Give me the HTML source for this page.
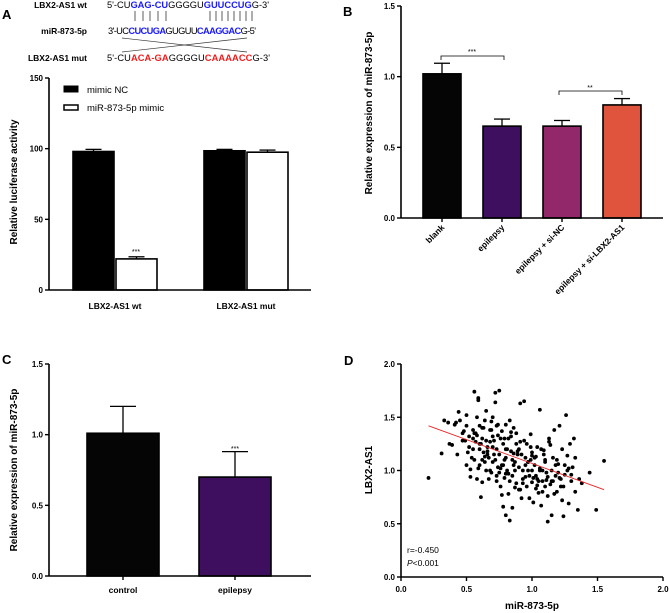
<!DOCTYPE html>
<html><head><meta charset="utf-8"><style>
body{margin:0;background:#fff}
svg{display:block;font-family:"Liberation Sans",Arial,sans-serif}
</style></head><body>
<svg id="fig" width="669" height="613" viewBox="0 0 669 613">
<g id="seq" font-size="9.3">
 <text x="2" y="19" font-size="13" font-weight="bold">A</text>
 <text x="87" y="8" text-anchor="end" font-size="8.5" font-weight="bold">LBX2-AS1 wt</text>
 <text x="87" y="34" text-anchor="end" font-size="8.5" font-weight="bold">miR-873-5p</text>
 <text x="87" y="61" text-anchor="end" font-size="8.5" font-weight="bold">LBX2-AS1 mut</text>
 <text x="107" y="8" textLength="162">5'-CU<tspan fill="#1a1aff" font-weight="bold">GAG-CU</tspan>GGGGU<tspan fill="#1a1aff" font-weight="bold">GUUCCUG</tspan>G-3'</text>
 <text x="108" y="34" textLength="148">3'-UC<tspan fill="#1a1aff" font-weight="bold">CUCUGA</tspan>GUGUU<tspan fill="#1a1aff" font-weight="bold">CAAGGAC</tspan>G-5'</text>
 <text x="107" y="61" textLength="163">5'-CU<tspan fill="#ee1c1c" font-weight="bold">ACA-GA</tspan>GGGGU<tspan fill="#ee1c1c" font-weight="bold">CAAAACC</tspan>G-3'</text>
 <g stroke="#333" stroke-width="0.8" id="pairs"></g>
 <line x1="122" y1="38" x2="247" y2="52" stroke="#333" stroke-width="0.7"/>
 <line x1="247" y1="38" x2="122" y2="52" stroke="#333" stroke-width="0.7"/>
</g>
<g id="pa"></g>
<g id="pb"></g>
<g id="pc"></g>
<g id="pd"></g>
</svg>
<script>
const NS="http://www.w3.org/2000/svg";
// Panel A data
const aCats=["LBX2-AS1 wt","LBX2-AS1 mut"];
const aNC=[98,98.5];
const aNCerr=[1.5,1];
const aMimic=[22,97.5];
const aMimicErr=[1.5,1.5];
const aTicks=[0,50,100,150];
// Panel B data
const bCats=["blank","epilepsy","epilepsy + si-NC","epilepsy + si-LBX2-AS1"];
const bVals=[1.02,0.65,0.65,0.80];
const bErr=[0.075,0.05,0.04,0.045];
const bTicks=[0.0,0.5,1.0,1.5];
// Panel C data
const cCats=["control","epilepsy"];
const cVals=[1.01,0.70];
const cErr=[0.19,0.18];
const cTicks=[0.0,0.5,1.0,1.5];
// Panel D data
const dX=[0.21,0.31,0.33,0.36,0.37,0.39,0.41,0.42,0.43,0.44,0.45,0.47,0.48,0.49,0.5,0.5,0.51,0.52,0.53,0.53,0.55,0.55,0.56,0.56,0.57,0.58,0.58,0.59,0.59,0.6,0.6,0.61,0.62,0.62,0.63,0.64,0.65,0.65,0.66,0.67,0.67,0.68,0.69,0.7,0.7,0.71,0.72,0.72,0.73,0.73,0.74,0.75,0.75,0.76,0.76,0.77,0.77,0.78,0.78,0.79,0.8,0.8,0.8,0.81,0.82,0.82,0.83,0.83,0.84,0.85,0.85,0.86,0.87,0.88,0.88,0.9,0.9,0.91,0.92,0.93,0.94,0.94,0.95,0.96,0.97,0.98,0.99,1.0,1.0,1.01,1.02,1.03,1.04,1.05,1.06,1.06,1.07,1.08,1.09,1.1,1.11,1.12,1.12,1.13,1.14,1.15,1.16,1.17,1.18,1.19,1.2,1.21,1.22,1.23,1.24,1.25,1.26,1.27,1.28,1.29,1.3,1.31,1.32,1.33,1.35,1.36,1.38,1.44,1.49,1.55,0.68,0.72,0.75,0.8,0.85,0.88,0.92,0.95,0.98,1.02,1.05,1.08,0.7,0.65,0.6,0.55,0.78,0.83,0.9,1.1,1.15,0.96,1.0,0.87,0.62,
 0.52,0.54,0.57,0.59,0.61,0.63,0.64,0.66,0.68,0.69,0.71,0.73,0.74,0.76,0.79,0.81,0.82,0.84,0.86,0.87,0.89,0.91,0.93,0.95,0.97,0.99,1.01,1.03,1.04,1.06,1.08,1.1,1.12,1.14,1.16,1.18,1.2,1.22,1.24,1.27,0.58,0.62,0.66,0.7,0.74,0.77,0.8,0.84,0.89,0.93,0.97,1.0,1.03,1.07,1.11,1.13,1.17,1.21,1.25,1.3,0.47,0.5,0.56,0.6,0.64,0.69,0.73,0.79,0.86,0.91,0.99,1.04,1.09,1.15,1.19,1.23,1.28,1.33];
const dY=[0.93,1.16,1.47,1.45,1.25,1.24,1.43,1.45,1.15,1.55,1.47,1.35,1.37,1.28,1.52,1.05,1.17,1.32,0.94,1.01,1.38,1.2,1.74,1.1,1.27,0.92,1.5,1.68,1.66,1.42,1.05,0.75,1.3,0.89,1.17,1.47,1.56,1.0,1.22,1.12,0.92,1.38,1.46,1.5,1.08,1.28,1.64,1.73,1.2,0.95,1.33,1.75,1.15,1.02,0.85,0.77,1.37,1.25,0.66,0.93,1.43,1.12,0.58,1.0,1.3,0.78,1.47,0.53,1.18,0.65,0.95,1.4,1.08,0.88,1.25,1.03,1.2,1.63,0.74,0.92,1.65,1.28,1.12,0.85,1.0,0.74,1.34,1.17,0.89,0.7,1.05,0.95,1.22,0.79,1.57,1.0,0.67,0.9,1.19,1.08,0.98,0.52,0.76,1.3,0.87,0.58,1.12,1.38,0.95,0.8,1.06,1.42,0.85,1.2,0.57,0.96,1.52,1.0,0.69,1.25,0.9,1.03,1.3,0.8,0.63,0.92,0.88,0.98,0.63,1.09,1.0,1.1,0.98,1.2,1.1,1.35,1.15,1.05,0.95,1.12,0.9,1.0,1.32,1.28,1.2,1.3,1.05,0.9,0.82,0.85,1.0,1.25,1.0,1.0,1.1,
 1.22,1.12,1.35,1.02,1.25,1.4,1.08,1.18,1.27,0.98,1.15,1.42,1.03,1.3,1.1,1.2,0.97,1.36,1.05,0.84,1.15,1.27,1.0,0.94,1.08,1.22,0.93,1.13,0.86,1.02,0.8,1.1,0.94,1.24,0.9,1.05,0.98,0.92,0.85,1.14,1.33,1.4,1.15,1.22,1.43,1.05,0.97,1.32,1.18,0.88,1.08,1.14,0.83,1.2,0.91,1.27,0.78,0.93,1.05,0.96,1.28,1.42,1.35,1.25,1.13,1.38,0.9,1.3,1.16,0.82,1.1,0.92,1.15,0.9,1.1,0.72,1.02,1.12];
const dFit=[[0.21,1.42],[1.55,0.82]];
const dTicks=[0.0,0.5,1.0,1.5,2.0];

function el(p,tag,at,txt){const e=document.createElementNS(NS,tag);for(const k in at)e.setAttribute(k,at[k]);if(txt!==undefined)e.textContent=txt;p.appendChild(e);return e;}
const fmt=v=>v.toFixed(1);

const pairs=document.getElementById('pairs');
[135,143,150,158,166,210,216,222,228,234,240,246,252].forEach(x=>el(pairs,'line',{x1:x,y1:11,x2:x,y2:21}));

function yAxis(g,x,y0,y1,ticks,max,fm,name){
  el(g,'line',{x1:x,y1:y0,x2:x,y2:y1,stroke:'#000','stroke-width':1.6});
  ticks.forEach(t=>{const y=y0-(t/max)*(y0-y1);
    el(g,'line',{x1:x-4,y1:y,x2:x,y2:y,stroke:'#000','stroke-width':1.4});
    const tx=el(g,'text',{x:x-6,y:y+3,'text-anchor':'end','font-size':8,'font-weight':'bold'},fm(t));
    
    });
}
function yTitle(g,x,y,txt,name){const t=el(g,'text',{x:0,y:0,transform:`translate(${x},${y}) rotate(-90)`,'text-anchor':'middle','font-size':10,'font-weight':'bold'},txt);
 
 }

// ---------- Panel A ----------
(function(){
 const g=document.getElementById('pa');const X=49,Y0=290,Y1=78,max=150;
 const sy=v=>Y0-v/max*(Y0-Y1);
 const centers=[115,246],bw=41;
 aCats.forEach((c,i)=>{
  const cx=centers[i];
  [[aNC,aNCerr,'#000',-1],[aMimic,aMimicErr,'#fff',0]].forEach(([v,e,f,o],j)=>{
   const x=cx+o*bw+(o<0?-1:1);
   const yv=sy(v[i]);
   const ey=sy(v[i]+e[i]);
   el(g,'line',{x1:x+bw/2,y1:yv,x2:x+bw/2,y2:ey,stroke:'#000','stroke-width':1.3});
   el(g,'line',{x1:x+bw/2-8,y1:ey,x2:x+bw/2+8,y2:ey,stroke:'#000','stroke-width':1.3});
   const r=el(g,'rect',{x:x,y:yv,width:bw,height:Y0-yv,fill:f,stroke:'#000','stroke-width':1.6});
   
   
  });
  const t=el(g,'text',{x:cx,y:309,'text-anchor':'middle','font-size':8.5,'font-weight':'bold'},c);
  
  
 });
 el(g,'text',{x:136,y:254,'text-anchor':'middle','font-size':7},'***');
 el(g,'line',{x1:X,y1:Y0,x2:311,y2:Y0,stroke:'#000','stroke-width':1.6});
 yAxis(g,X,Y0,Y1,aTicks,max,v=>String(v),'panel-a-y');
 yTitle(g,17,182,'Relative luciferase activity','panel-a-y-title');
 const l1=el(g,'rect',{x:64,y:86,width:14,height:6,fill:'#000',stroke:'#000'});
 
 
 const t1=el(g,'text',{x:87,y:93,'font-size':9.5},'mimic NC');
 
 
 const l2=el(g,'rect',{x:64,y:105,width:14,height:5,fill:'#fff',stroke:'#000','stroke-width':1.5});
 
 
 const t2=el(g,'text',{x:87,y:111,'font-size':9.5},'miR-873-5p mimic');
 
 
})();

// ---------- Panel B ----------
(function(){
 const g=document.getElementById('pb');const X=401,Y0=218,Y1=6,max=1.5;
 const sy=v=>Y0-v/max*(Y0-Y1);
 const colors=['#050505','#3f0f5f','#92286a','#e0533d'];
 const cx=i=>442+i*60;
 el(g,'text',{x:343,y:16,'font-size':13,'font-weight':'bold'},'B');
 bCats.forEach((c,i)=>{
  const x=cx(i),yv=sy(bVals[i]),ey=sy(bVals[i]+bErr[i]);
  el(g,'line',{x1:x,y1:yv,x2:x,y2:ey,stroke:'#000','stroke-width':1.3});
  el(g,'line',{x1:x-8,y1:ey,x2:x+8,y2:ey,stroke:'#000','stroke-width':1.3});
  const r=el(g,'rect',{x:x-19,y:yv,width:38,height:Y0-yv,fill:colors[i],stroke:'#000','stroke-width':1.6});
  
  
  el(g,'line',{x1:x,y1:Y0,x2:x,y2:Y0+4,stroke:'#000','stroke-width':1.4});
  const t=el(g,'text',{x:0,y:0,transform:`translate(${x+3},${Y0+10}) rotate(-45)`,'text-anchor':'end','font-size':8.5,'font-weight':'bold'},c);
  
  
 });
 el(g,'path',{d:'M441,60 V56 H504 V60',fill:'none',stroke:'#000','stroke-width':0.8});
 el(g,'text',{x:472,y:54,'text-anchor':'middle','font-size':7},'***');
 el(g,'path',{d:'M559,95 V91 H622 V95',fill:'none',stroke:'#000','stroke-width':0.8});
 el(g,'text',{x:590,y:90,'text-anchor':'middle','font-size':7},'**');
 el(g,'line',{x1:X,y1:Y0,x2:663,y2:Y0,stroke:'#000','stroke-width':1.6});
 yAxis(g,X,Y0,Y1,bTicks,max,fmt,'panel-b-y');
 yTitle(g,372,113,'Relative expression of miR-873-5p','panel-b-y-title');
})();

// ---------- Panel C ----------
(function(){
 const g=document.getElementById('pc');const X=49,Y0=576,Y1=364,max=1.5;
 const sy=v=>Y0-v/max*(Y0-Y1);
 el(g,'text',{x:2,y:364,'font-size':13,'font-weight':'bold'},'C');
 const colors=['#050505','#3f0f5f'];
 cCats.forEach((c,i)=>{
  const x=123+i*112,yv=sy(cVals[i]),ey=sy(cVals[i]+cErr[i]);
  el(g,'line',{x1:x,y1:yv,x2:x,y2:ey,stroke:'#000','stroke-width':1.3});
  el(g,'line',{x1:x-13,y1:ey,x2:x+13,y2:ey,stroke:'#000','stroke-width':1.3});
  const r=el(g,'rect',{x:x-36,y:yv,width:72,height:Y0-yv,fill:colors[i],stroke:'#000','stroke-width':1.6});
  
  
  el(g,'line',{x1:x,y1:Y0,x2:x,y2:Y0+4,stroke:'#000','stroke-width':1.4});
  const t=el(g,'text',{x:x,y:593,'text-anchor':'middle','font-size':8.5,'font-weight':'bold'},c);
  
  
 });
 el(g,'text',{x:235,y:451,'text-anchor':'middle','font-size':7},'***');
 el(g,'line',{x1:X,y1:Y0,x2:311,y2:Y0,stroke:'#000','stroke-width':1.6});
 yAxis(g,X,Y0,Y1,cTicks,max,fmt,'panel-c-y');
 yTitle(g,17,470,'Relative expression of miR-873-5p','panel-c-y-title');
})();

// ---------- Panel D ----------
(function(){
 const g=document.getElementById('pd');const X=401,X1=663,Y0=577,Y1=364,max=2;
 const sx=v=>X+v/max*(X1-X);const sy=v=>Y0-v/max*(Y0-Y1);
 el(g,'text',{x:344,y:365,'font-size':13,'font-weight':'bold'},'D');
 dX.forEach((v,i)=>{const c=el(g,'circle',{cx:sx(v),cy:sy(dY[i]),r:1.9,fill:'#000'});
  
  });
 const ln=el(g,'line',{x1:sx(dFit[0][0]),y1:sy(dFit[0][1]),x2:sx(dFit[1][0]),y2:sy(dFit[1][1]),stroke:'#ee2222','stroke-width':0.9});
 
 
 el(g,'line',{x1:X,y1:Y0,x2:X1,y2:Y0,stroke:'#000','stroke-width':1.6});
 dTicks.forEach(t=>{const x=sx(t);el(g,'line',{x1:x,y1:Y0,x2:x,y2:Y0+4,stroke:'#000','stroke-width':1.4});
  const tx=el(g,'text',{x:x,y:592,'text-anchor':'middle','font-size':8,'font-weight':'bold'},fmt(t));
  
  });
 yAxis(g,X,Y0,Y1,dTicks,max,fmt,'panel-d-y');
 const xt=el(g,'text',{x:532,y:609,'text-anchor':'middle','font-size':10,'font-weight':'bold'},'miR-873-5p');
 
 
 yTitle(g,372,470,'LBX2-AS1','panel-d-y-title');
 el(g,'text',{x:407,y:553,'font-size':8.5},'r=-0.450');
 const p=el(g,'text',{x:407,y:566,'font-size':8.5});
 p.innerHTML='<tspan font-style="italic">P</tspan>&lt;0.001';
})();
</script>
</body></html>
